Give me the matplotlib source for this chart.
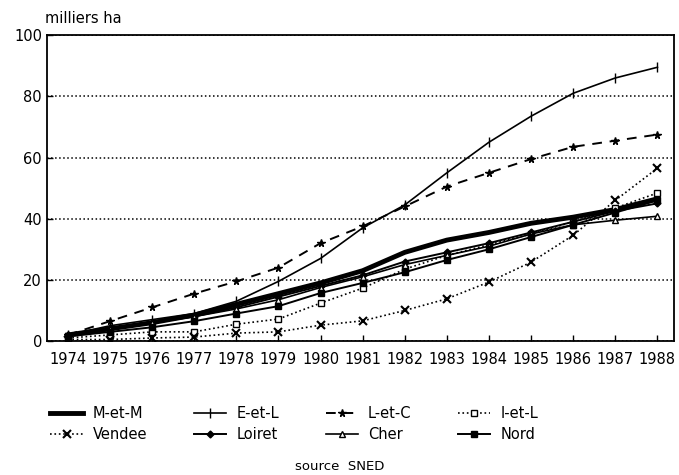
import matplotlib
matplotlib.use("Agg")
import matplotlib.pyplot as plt
from matplotlib.ticker import MultipleLocator

# Data (milliers ha)
years = list(range(1974, 1989))
m_et_m = [2, 4, 6, 8.5, 12, 15.5, 19, 23, 29, 33, 35.5, 38.5, 40.5, 43, 46.5]
e_et_l = [2, 5, 7, 9, 13, 19.5, 27, 37, 44.5, 55, 65, 73.5, 81, 86, 89.5]
l_et_c = [2, 6.5, 11, 15.5, 19.5, 24, 32, 37.5, 44, 50.5, 55, 59.5, 63.5, 65.5, 67.5]
i_et_l = [1, 2, 3, 3, 5.5, 7.2, 12.4, 17.3, 23.5, 28, 31.5, 35, 39, 43.5, 48.4]
vendee = [0.5, 0.5, 1, 1.3, 2.6, 3, 5.2, 6.6, 10, 13.8, 19.3, 25.8, 34.6, 46, 56.5]
loiret = [2, 4, 6, 8, 11, 14.5, 18, 21.5, 26, 29, 32, 35.5, 39, 42.5, 45]
cher = [2, 4, 6, 8, 10.5, 13.5, 17.5, 21, 25, 28, 31, 35, 38, 39.5, 40.8]
nord = [1.5, 3, 4.5, 6.5, 9, 11.4, 15.7, 19, 22.5, 26.5, 30, 34, 38, 42, 46]

plt.rcParams['font.family'] = ['DejaVu Sans']

fig = plt.figure(figsize=(6.79, 4.75), dpi=100)
ax = fig.add_axes([0.069, 0.282, 0.924, 0.644])

h_mm, = ax.plot(years, m_et_m, color='black', lw=3.5, label='M-et-M')
h_el, = ax.plot(years, e_et_l, color='black', lw=1.2, marker='|', ms=7, label='E-et-L')
h_lc, = ax.plot(years, l_et_c, color='black', lw=1.4, ls=(0, (5, 4)), marker='*', ms=5.5, label='L-et-C')
h_il, = ax.plot(years, i_et_l, color='black', lw=1.2, ls=':', marker='s', ms=5,
                mfc='white', label='I-et-L')
h_ve, = ax.plot(years, vendee, color='black', lw=1.2, ls=':', marker='x', ms=6, mew=1.5, label='Vendee')
h_lo, = ax.plot(years, loiret, color='black', lw=1.4, marker='D', ms=3.5, label='Loiret')
h_ch, = ax.plot(years, cher, color='black', lw=1.2, marker='^', ms=5, mfc='white', label='Cher')
h_no, = ax.plot(years, nord, color='black', lw=1.4, marker='s', ms=4, label='Nord')

ax.set_xlim(1973.5, 1988.4)
ax.set_ylim(0, 100)
ax.yaxis.set_major_locator(MultipleLocator(20))
ax.set_xticks(years)
ax.set_xticklabels([str(y) for y in years])
ax.tick_params(axis='both', direction='in', length=4, width=1, labelsize=10.5, colors='black')
ax.tick_params(axis='x', pad=8)
ax.grid(axis='y', ls=':', color='black', lw=1.1)
for s in ax.spines.values():
    s.set_linewidth(1.3)
    s.set_color('black')

fig.text(0.066, 0.945, 'milliers ha', fontsize=10.5, ha='left', va='bottom')

# legend in 2 rows x 4 columns, filled column-wise
handles = [h_mm, h_ve, h_el, h_lo, h_lc, h_ch, h_il, h_no]
fig.legend(handles=handles, labels=[h.get_label() for h in handles], ncol=4,
           loc='center left', bbox_to_anchor=(0.055, 0.107), frameon=False,
           fontsize=10.5, handlelength=2.2, columnspacing=3.2, labelspacing=0.45,
           handletextpad=0.7)

fig.text(0.50, 0.005, 'source  SNED', fontsize=9.5, ha='center', va='bottom')

fig.savefig('out.png', dpi=100, facecolor='white')
